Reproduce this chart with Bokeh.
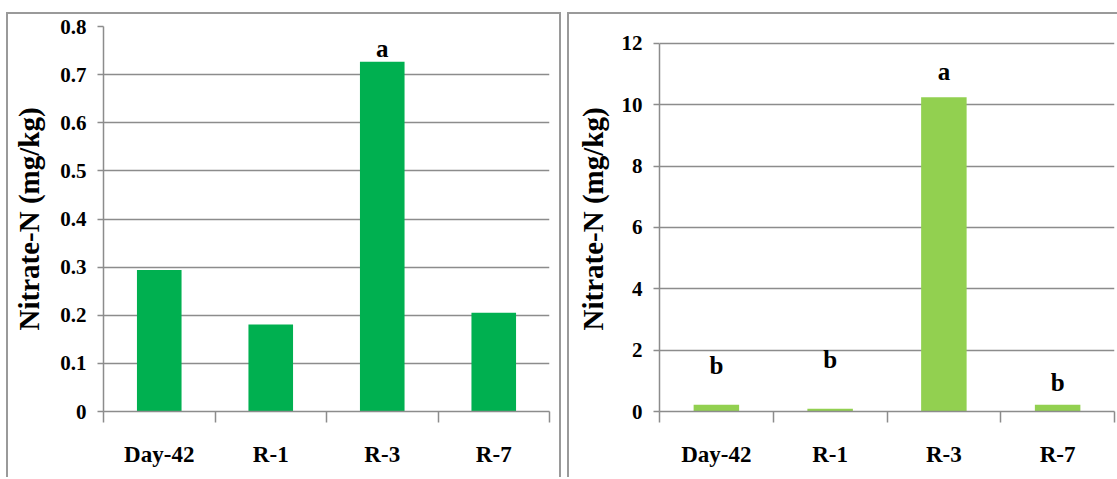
from bokeh.plotting import figure
from bokeh.models import Range1d, LinearAxis, FixedTicker, ColumnDataSource
from bokeh.layouts import row
from bokeh.core.properties import value
from bokeh.embed import file_html
from bokeh.resources import INLINE

# ---------------- data ----------------
categories = ["Day-42", "R-1", "R-3", "R-7"]
left_values = [0.294, 0.181, 0.727, 0.205]
right_values = [0.22, 0.09, 10.24, 0.22]
left_letters = ["", "", "a", ""]
right_letters = ["b", "b", "a", "b"]
left_yticks = [0, 0.1, 0.2, 0.3, 0.4, 0.5, 0.6, 0.7, 0.8]
right_yticks = [0, 2, 4, 6, 8, 10, 12]
y_title = "Nitrate-N (mg/kg)"

# ---------------- style ----------------
FONT = "'Liberation Serif', 'Times New Roman', Times, 'DejaVu Serif', serif"
GRID = "#8c8c8c"
PANEL = "#9a9a9a"


def make_panel(values, color, yticks, yview_top, letters, letter_offsets, width,
               mb_left, mb_right, title_standoff, borders, margin_left):
    n = len(categories)
    centers = [i + 0.5 for i in range(n)]          # category slot centres
    edges = list(range(n + 1))                      # category slot boundaries
    p = figure(x_range=Range1d(0, n), y_range=Range1d(0, yview_top),
               width=width, height=465,
               output_backend="svg", toolbar_location=None,
               x_axis_location=None, y_axis_location="left",
               min_border_left=mb_left, min_border_right=mb_right,
               min_border_top=12, min_border_bottom=68,
               outline_line_color=None, background_fill_color="white",
               border_fill_color="white")
    p.margin = (12, 0, 0, margin_left)
    p.styles = borders

    # y axis
    ya = p.yaxis[0]
    ya.ticker = FixedTicker(ticks=yticks)
    ya.bounds = (yticks[0], yticks[-1])
    ya.major_label_overrides = {0: "0"}
    ya.axis_line_color = GRID
    ya.axis_line_width = 1.5
    ya.major_tick_line_color = GRID
    ya.major_tick_line_width = 1.5
    ya.major_tick_out = 6
    ya.major_tick_in = 0
    ya.minor_tick_line_color = None
    ya.major_label_standoff = 11
    ya.major_label_text_font = FONT
    ya.major_label_text_font_style = "bold"
    ya.major_label_text_font_size = "21px"
    ya.major_label_text_color = "black"
    ya.axis_label = y_title
    ya.axis_label_text_font = FONT
    ya.axis_label_text_font_style = "bold"
    ya.axis_label_text_font_size = "29px"
    ya.axis_label_text_color = "black"
    ya.axis_label_standoff = title_standoff

    p.ygrid.grid_line_color = GRID
    p.ygrid.grid_line_width = 1.5
    p.xgrid.visible = False

    # x axis: labels at slot centres, tick marks at slot boundaries
    xa = LinearAxis(ticker=FixedTicker(ticks=centers, minor_ticks=edges),
                    major_label_overrides={c: name for c, name in zip(centers, categories)},
                    axis_line_color=GRID, axis_line_width=1.5,
                    major_tick_line_color=None, major_tick_out=0, major_tick_in=0,
                    minor_tick_line_color=GRID, minor_tick_line_width=1.5,
                    minor_tick_out=11, minor_tick_in=0,
                    major_label_standoff=19,
                    major_label_text_font=FONT,
                    major_label_text_font_style="bold",
                    major_label_text_font_size="23px",
                    major_label_text_color="black")
    p.add_layout(xa, "below")

    src = ColumnDataSource(dict(x=centers, val=values, letter=letters, off=letter_offsets))
    p.vbar(x="x", top="val", width=0.4, source=src, fill_color=color, line_color=None)
    p.text(x="x", y="val", text="letter", y_offset="off", source=src,
           text_align="center", text_baseline="middle", text_font=value(FONT),
           text_font_style="bold", text_font_size="25px", text_color="black")
    return p


border_left_panel = {"border-top": "2px solid " + PANEL, "border-left": "2px solid " + PANEL,
                     "border-right": "2px solid " + PANEL, "box-sizing": "border-box"}
border_right_panel = {"border-top": "2px solid " + PANEL, "border-left": "2px solid " + PANEL,
                      "box-sizing": "border-box"}

p1 = make_panel(left_values, "#00b050", left_yticks, 0.8, left_letters, [0, 0, -13, 0],
                555, 95, 14, 12, border_left_panel, 6)
p2 = make_panel(right_values, "#92d050", right_yticks, 12.55, right_letters, [-39, -49, -26, -22],
                550, 90, 5, 10, border_right_panel, 0)

layout = row(p1, p2, spacing=6)
open("out.html", "w").write(file_html(layout, INLINE))
